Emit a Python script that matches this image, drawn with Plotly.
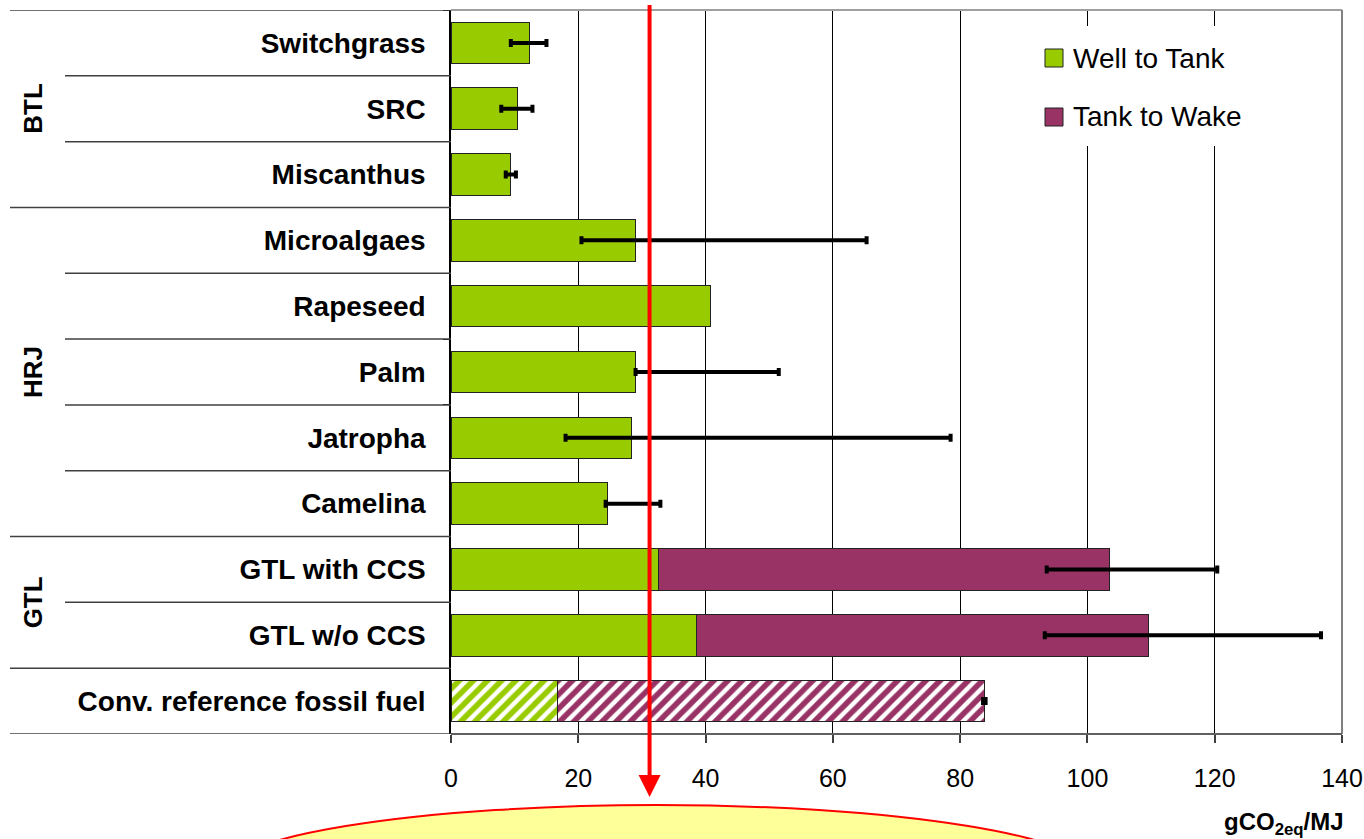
import plotly.graph_objects as go

# ---- data -------------------------------------------------------------
categories = [
    "Switchgrass", "SRC", "Miscanthus",
    "Microalgaes", "Rapeseed", "Palm", "Jatropha", "Camelina",
    "GTL with CCS", "GTL w/o CCS",
    "Conv. reference fossil fuel",
]
well_to_tank = [12.4, 10.5, 9.4, 29.0, 40.8, 29.0, 28.4, 24.6, 32.6, 38.6, 16.7]
tank_to_wake = [0, 0, 0, 0, 0, 0, 0, 0, 70.8, 71.0, 67.1]
range_low = [9.4, 7.9, 8.6, 20.5, None, 29.0, 18.0, 24.3, 93.6, 93.3, 83.6]
range_high = [15.0, 12.8, 10.2, 65.3, None, 51.5, 78.5, 32.9, 120.4, 136.7, 84.0]
hatch = ["", "", "", "", "", "", "", "", "", "", "/"]

groups = [("BTL", 1), ("HRJ", 5), ("GTL", 8.5)]
group_bounds = [-0.5, 2.5, 7.5, 9.5, 10.5]
item_bounds = [0.5, 1.5, 3.5, 4.5, 5.5, 6.5, 8.5]

x_ticks = [0, 20, 40, 60, 80, 100, 120, 140]
legend_names = ["Well to Tank", "Tank to Wake"]

GREEN = "#99CC00"
PURPLE = "#993366"
FONT = "Liberation Sans, Arial"

# ---- figure geometry (pixels) ----------------------------------------
W, H = 1364, 839
ML, MR, MT, MB = 451, 22, 10, 105
PW, PH = W - ML - MR, H - MT - MB


def px_x(px):
    return (px - ML) / PW


def px_y(py):
    return (H - MB - py) / PH


totals = [a + b for a, b in zip(well_to_tank, tank_to_wake)]
err_plus = [None if h is None else h - t for h, t in zip(range_high, totals)]
err_minus = [None if l is None else t - l for l, t in zip(range_low, totals)]
err_x = [None if l is None else t for l, t in zip(range_low, totals)]


def hatch_pattern(color):
    return dict(shape=hatch, fgcolor=color, bgcolor="white", fgopacity=1,
                size=10, solidity=0.55, fillmode="replace")


fig = go.Figure()
fig.add_trace(go.Bar(
    y=categories, x=well_to_tank, orientation="h", name=legend_names[0],
    marker=dict(color=GREEN, line=dict(color="#222222", width=1),
                pattern=hatch_pattern(GREEN)),
    showlegend=False,
))
fig.add_trace(go.Bar(
    y=categories, x=tank_to_wake, orientation="h", name=legend_names[1],
    marker=dict(color=PURPLE, line=dict(color="#222222", width=1),
                pattern=hatch_pattern(PURPLE)),
    showlegend=False,
))
# uncertainty ranges
fig.add_trace(go.Scatter(
    y=categories, x=err_x, mode="markers",
    marker=dict(size=1, opacity=0),
    error_x=dict(type="data", symmetric=False, array=err_plus,
                 arrayminus=err_minus, color="black", thickness=4, width=4),
    showlegend=False, hoverinfo="skip",
))

shapes = []
# separator lines in the label column
for b in group_bounds:
    shapes.append(dict(type="line", xref="paper", yref="y",
                       x0=px_x(10), x1=0, y0=b, y1=b,
                       line=dict(color="#404040", width=1.5), layer="above"))
for b in item_bounds:
    shapes.append(dict(type="line", xref="paper", yref="y",
                       x0=px_x(65), x1=0, y0=b, y1=b,
                       line=dict(color="#404040", width=1.5), layer="above"))
# plot frame (top / right / bottom)
shapes.append(dict(type="line", xref="paper", yref="paper", x0=0, x1=1, y0=1, y1=1,
                   line=dict(color="#a0a0a0", width=2), layer="above"))
shapes.append(dict(type="line", xref="paper", yref="paper", x0=1, x1=1, y0=0, y1=1,
                   line=dict(color="#808080", width=2), layer="above"))
shapes.append(dict(type="line", xref="paper", yref="paper", x0=0, x1=1, y0=0, y1=0,
                   line=dict(color="#606060", width=2), layer="above"))

# legend box
shapes.append(dict(type="rect", xref="paper", yref="paper",
                   x0=px_x(1020), x1=px_x(1280), y0=px_y(26), y1=px_y(146),
                   fillcolor="white", line=dict(width=0), layer="above"))
legend_rows = [(58, GREEN), (117, PURPLE)]
for cy, col in legend_rows:
    shapes.append(dict(type="rect", xref="paper", yref="paper",
                       x0=px_x(1045), x1=px_x(1063), y0=px_y(cy - 9), y1=px_y(cy + 9),
                       fillcolor=col, line=dict(color="#222222", width=1), layer="above"))

# callout bubble below the axis
shapes.append(dict(type="circle", xref="paper", yref="paper",
                   x0=px_x(217), x1=px_x(1097), y0=px_y(805), y1=px_y(949),
                   fillcolor="#FFFF99", line=dict(color="red", width=2), layer="above"))

# red marker line through the chart
shapes.append(dict(type="line", xref="x", yref="paper", x0=31.2, x1=31.2,
                   y0=px_y(5), y1=px_y(785), line=dict(color="red", width=4),
                   layer="above"))

annotations = []
for name, (cy, _) in zip(legend_names, legend_rows):
    annotations.append(dict(xref="paper", yref="paper", x=px_x(1071), y=px_y(cy),
                            xanchor="left", yanchor="middle", text=name, showarrow=False,
                            font=dict(family=FONT, size=28, color="black")))
for g, yc in groups:
    annotations.append(dict(xref="paper", yref="y", x=px_x(33), y=yc, text="<b>%s</b>" % g,
                            textangle=-90, showarrow=False, xanchor="center", yanchor="middle",
                            font=dict(family=FONT, size=26, color="black")))
annotations.append(dict(xref="paper", yref="paper", x=px_x(1346), y=px_y(823),
                        xanchor="right", yanchor="middle", showarrow=False,
                        text="<b>gCO<sub>2eq</sub>/MJ</b>",
                        font=dict(family=FONT, size=24, color="black")))
# arrowhead at the end of the red line
annotations.append(dict(xref="x", yref="paper", x=31.2, y=px_y(797),
                        ax=0, ay=-20, axref="pixel", ayref="pixel", text=" ",
                        showarrow=True, arrowhead=2, arrowsize=1.1, arrowwidth=4,
                        arrowcolor="red"))

fig.update_layout(
    width=W, height=H,
    margin=dict(l=ML, r=MR, t=MT, b=MB, pad=0, autoexpand=False),
    paper_bgcolor="white", plot_bgcolor="white",
    barmode="stack", bargap=0.37,
    font=dict(family=FONT, color="black"),
    shapes=shapes, annotations=annotations,
    xaxis=dict(range=[0, 140], tickvals=x_ticks, showgrid=True, gridcolor="black",
               gridwidth=1, zeroline=False, showline=False, ticks="outside",
               ticklen=8, tickcolor="#404040", tickwidth=1.5, automargin=False,
               tickfont=dict(size=25, family=FONT),
               ticklabelstandoff=14),
    yaxis=dict(type="category", range=[10.5, -0.5], autorange=False,
               categoryorder="array", categoryarray=categories,
               showgrid=False, zeroline=False,
               showline=True, linecolor="black", linewidth=1.5, automargin=False,
               ticks="outside", tickson="boundaries", ticklen=6, tickcolor="black",
               tickfont=dict(size=28, family=FONT, weight="bold"),
               ticklabelstandoff=18),
)

fig.write_html("out.html")
